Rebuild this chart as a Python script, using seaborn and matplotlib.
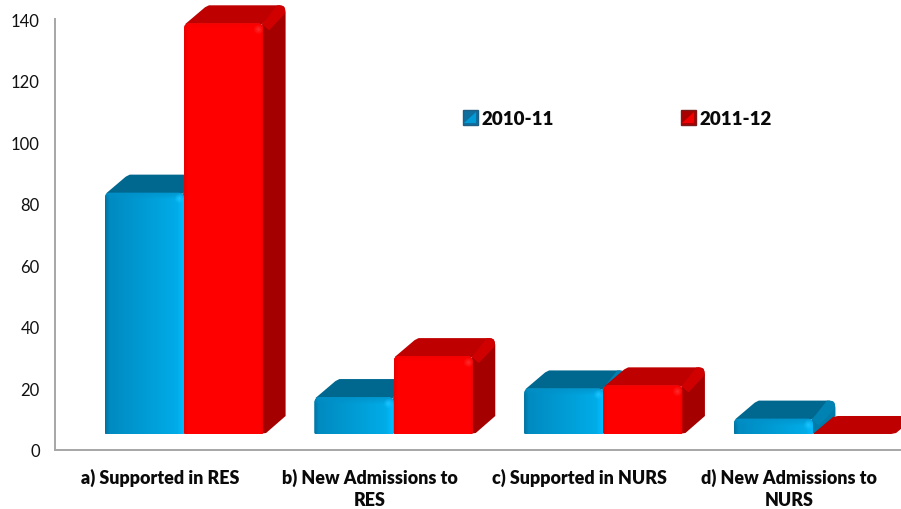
import numpy as np
import pandas as pd
import matplotlib
matplotlib.use("Agg")
import matplotlib.pyplot as plt
import seaborn as sns
from matplotlib.path import Path
from matplotlib.patches import Patch, Rectangle, Polygon
from matplotlib.transforms import IdentityTransform
from matplotlib.legend_handler import HandlerBase

categories = ["a) Supported in RES", "b) New Admissions to\nRES",
              "c) Supported in NURS", "d) New Admissions to\nNURS"]
series_names = ["2010-11", "2011-12"]
values_2010 = [78.4, 12, 14.8, 5]
values_2011 = [133.4, 25.3, 15.8, 0]
y_ticks = [0, 20, 40, 60, 80, 100, 120, 140]

W, H = 901, 510
DEPTH_X, DEPTH_Y = 22, 18      # px
BASE_OFFSET = 5.2              # floor of the 3D box above the axis, in data units
FONT = ["Lato", "DejaVu Sans"]

sns.set_theme(style="white")
plt.rcParams["font.family"] = FONT

df = pd.DataFrame({
    "category": categories * 2,
    "value": values_2010 + values_2011,
    "period": [series_names[0]] * 4 + [series_names[1]] * 4,
})

fig = plt.figure(figsize=(W / 100, H / 100), dpi=100, facecolor="white")
ax = fig.add_axes([55 / W, (H - 451) / H, (W - 55) / W, 431 / H])

sns.barplot(data=df, x="category", y="value", hue="period", order=categories,
            hue_order=series_names, palette=["#009FD8", "#FF0000"],
            width=0.755, gap=0, dodge=True, legend=False, errorbar=None, ax=ax,
            linewidth=0)

ax.set_ylim(0, 140)
ax.set_xlim(-0.615, 3.42)
ax.set_xlabel("")
ax.set_ylabel("")
ax.set_yticks(y_ticks)
ax.set_xticks(np.arange(4) - 0.114)
ax.set_xticklabels(categories, fontweight="heavy", fontsize=12.9, color="#0A0A0A",
                   linespacing=1.42)
ax.tick_params(axis="x", length=0, pad=12.5)
ax.tick_params(axis="y", length=0, pad=11, labelsize=12, labelcolor="#111111")
for s in ("top", "right"):
    ax.spines[s].set_visible(False)
for s in ("left", "bottom"):
    ax.spines[s].set_color("#A6A6A6")
    ax.spines[s].set_linewidth(1.4)

ident = IdentityTransform()


def rounded(pts_x0, pts_y0, pts_x1, pts_y1, r, rb=1.5):
    """Rounded-rectangle path in pixels (y up); top corners radius r."""
    r = min(r, (pts_y1 - pts_y0) * 0.8) if pts_y1 > pts_y0 else 0
    v = [(pts_x0 + rb, pts_y0), (pts_x1 - rb, pts_y0),
         (pts_x1, pts_y0), (pts_x1, pts_y0 + rb),
         (pts_x1, pts_y1 - r), (pts_x1, pts_y1), (pts_x1 - r, pts_y1),
         (pts_x0 + r, pts_y1), (pts_x0, pts_y1), (pts_x0, pts_y1 - r),
         (pts_x0, pts_y0 + rb), (pts_x0, pts_y0), (pts_x0 + rb, pts_y0),
         (pts_x0 + rb, pts_y0)]
    c = [Path.MOVETO, Path.LINETO, Path.CURVE3, Path.CURVE3, Path.LINETO, Path.CURVE3,
         Path.CURVE3, Path.LINETO, Path.CURVE3, Path.CURVE3, Path.LINETO, Path.CURVE3,
         Path.CURVE3, Path.CLOSEPOLY]
    return Path(v, c)


def hexrgb(h):
    return np.array(matplotlib.colors.to_rgb(h))


def front_image(w, h, kind):
    w, h = max(int(round(w)), 2), max(int(round(h)), 2)
    u = np.linspace(0, 1, w)
    px = np.arange(w)
    if kind == 0:
        cols = np.outer(1 - u, hexrgb("#0088BE")) + np.outer(u, hexrgb("#00B0EC"))
        edge_l = np.clip(1 - px / 4, 0, 1)[:, None]
        cols = cols * (1 - 0.15 * edge_l)
        edge_r = np.clip((px - (w - 8)) / 6, 0, 1)[:, None]
        cols = cols * (1 - edge_r) + hexrgb("#00BDFF") * edge_r
    else:
        cols = np.tile(hexrgb("#FF0000"), (w, 1))
        edge_l = np.clip(1 - px / 4, 0, 1)[:, None]
        edge_r = np.clip((px - (w - 4)) / 3, 0, 1)[:, None]
        cols = cols * (1 - 0.08 * edge_l) * (1 - 0.08 * edge_r)
    img = np.tile(cols[None, :, :], (h, 1, 1))
    rows = np.arange(h)
    rim = np.clip(1 - rows / 7, 0, 1)[:, None, None]
    rim_col = hexrgb("#0090C8") if kind == 0 else hexrgb("#F60000")
    img = img * (1 - 0.75 * rim) + rim_col * 0.75 * rim
    xx, yy = np.meshgrid(px, rows)
    d = np.hypot(xx - (w - 6), yy - 6)
    glow = np.clip(1 - d / 5, 0, 1)[:, :, None]
    glow_col = hexrgb("#19C4FF") if kind == 0 else hexrgb("#FF2A2A")
    return img * (1 - glow) + glow_col * glow


def add_poly(verts, color, z):
    p = Polygon(verts, closed=True, fc=color, ec="none", transform=ident, zorder=z)
    ax.add_artist(p)
    p.set_clip_on(False)
    return p


def draw_depth(x0, y0, x1, y1, kind, z):
    top_c = "#00678F" if kind == 0 else "#BE0000"
    side_c = "#007AA8" if kind == 0 else "#A50000"
    wedge_c = "#0082B2" if kind == 0 else "#D00000"
    dx, dy = DEPTH_X, DEPTH_Y
    r = 6
    bx, by = x0 + dx, y1 + dy      # back-left top
    ex = x1 + dx                   # back-right x
    if y1 > y0:
        add_poly([(x0 + 1, y1 - 1), (x1 - 1, y1 - 1), (ex - 3, by - 1),
                  (ex - r, by), (bx + 3, by), (bx - 1, by - 2)], top_c, z)
        add_poly([(x1 - 1, y0 + 0.5), (x1 - 1, y1 - 1), (ex - r, by), (ex - 3, by - 0.4),
                  (ex - 1, by - 1.5), (ex, by - 4), (ex + 0.5, by - r - 1),
                  (ex + 0.5, y0 + dy), (x1 + 3, y0 + 1)], side_c, z)
        add_poly([(x1 - 1, y1 - 1), (ex - 8, by), (ex - 3, by - 0.4), (ex - 1, by - 1.5),
                  (ex, by - 4), (ex, by - 8), (x1 + 6, y1 - 7)], wedge_c, z + 0.01)
    else:
        add_poly([(x0, y0), (bx - 2, by - 1), (bx + 3, by), (ex - 2, by),
                  (ex, by - 2), (x1 + 4, y0 + 1), (x1 - 1, y0)], top_c, z)


for kind, container in enumerate(ax.containers):
    for idx, bar in enumerate(container):
        height = bar.get_height()
        bar.set_y(BASE_OFFSET)
        x_a, x_b = bar.get_x(), bar.get_x() + bar.get_width()
        (px0, py0) = ax.transData.transform((x_a, BASE_OFFSET))
        (px1, py1) = ax.transData.transform((x_b, BASE_OFFSET + height))
        z = 2 + idx * 2 + kind * 0.5
        draw_depth(px0, py0, px1, py1, kind, z)
        bar.set_zorder(z + 0.1)
        if height > 0:
            clip = rounded(px0, py0, px1, py1, 5.5)
            bar.set_clip_path(clip, ident)
            im = ax.imshow(front_image(px1 - px0, py1 - py0, kind),
                           extent=(x_a, x_b, BASE_OFFSET, BASE_OFFSET + height),
                           aspect="auto", origin="upper", zorder=z + 0.2,
                           interpolation="bilinear")
            im.set_clip_path(clip, ident)
        else:
            bar.set_visible(False)

ax.set_xlim(-0.615, 3.42)
ax.set_ylim(0, 140)
ax.set_aspect("auto")
for s in ax.spines.values():
    s.set_zorder(50)


class GradientSquare(HandlerBase):
    def __init__(self, edge, dark, light):
        super().__init__()
        self.edge, self.dark, self.light = edge, dark, light

    def create_artists(self, legend, orig, xd, yd, width, height, fontsize, trans):
        s = min(width, height) * 1.0
        x, y = -xd, -yd + (height - s) / 2
        base = Rectangle((x, y), s, s, fc=self.dark, ec=self.edge, lw=1.0, transform=trans)
        tri = Polygon([(x + 0.1 * s, y + 0.1 * s), (x + 0.9 * s, y + 0.1 * s), (x + 0.9 * s, y + 0.9 * s)],
                      closed=True, fc=self.light, ec="none", transform=trans)
        return [base, tri]


h_a = Patch(facecolor="#009FD8", label=series_names[0])
h_b = Patch(facecolor="#FF0000", label=series_names[1])
leg = ax.legend(handles=[h_a, h_b], ncols=2, frameon=False, loc="center left",
                bbox_to_anchor=((463 - 55) / (W - 55), (451 - 119.5) / 431),
                borderaxespad=0, borderpad=0,
                prop={"family": FONT, "weight": "heavy", "size": 13.5},
                handlelength=0.85, handleheight=0.85, handletextpad=0.15,
                columnspacing=6.75,
                handler_map={h_a: GradientSquare("#1F5F86", "#0E6E9E", "#009AD6"),
                             h_b: GradientSquare("#7A1A1A", "#A80000", "#F00000")})
leg.set_zorder(60)
for t in leg.get_texts():
    t.set_color("#0A0A0A")

fig.savefig("out.png", dpi=100, facecolor="white")
